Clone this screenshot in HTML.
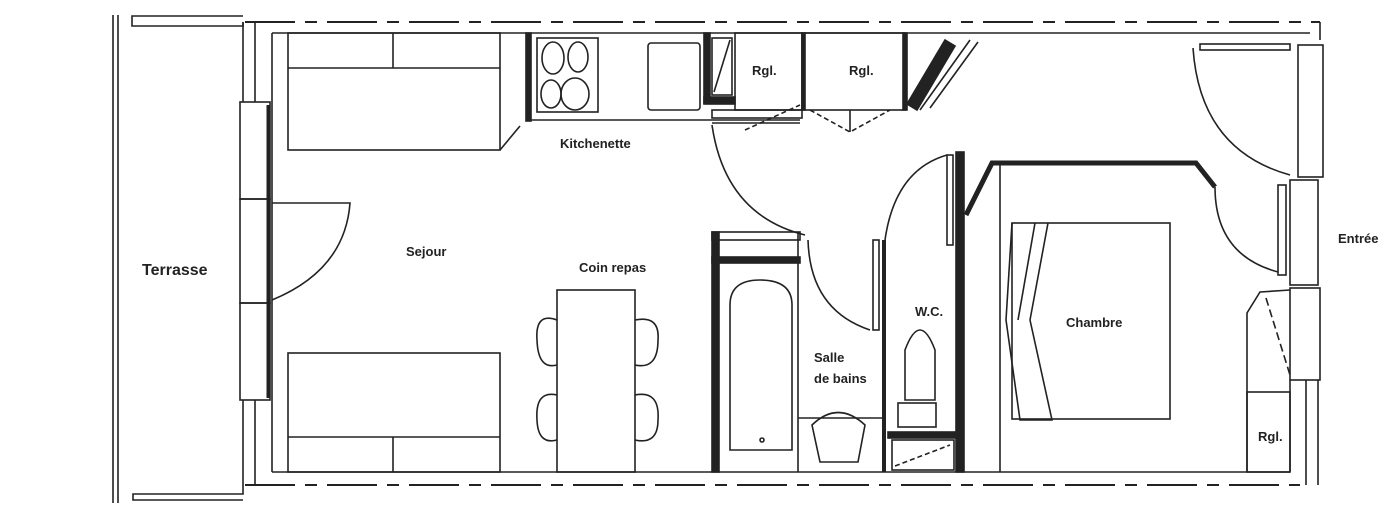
<!DOCTYPE html>
<html><head><meta charset="utf-8"><style>
html,body{margin:0;padding:0;background:#fff}
svg{display:block}
text{font-family:"Liberation Sans",sans-serif;font-weight:bold;fill:#222}
</style></head><body>
<svg width="1400" height="532" viewBox="0 0 1400 532" xmlns="http://www.w3.org/2000/svg">
<g fill="none" stroke="#222" stroke-width="1.6">
<!-- far left lines -->
<line x1="113" y1="15" x2="113" y2="503"/>
<line x1="118" y1="15" x2="118" y2="503"/>
<!-- terrace edges -->
<polyline points="243,22 243,26 132,26 132,16 243,16"/>
<polyline points="243,486 243,494 133,494 133,500 243,500"/>
<!-- dashed outer lines -->
<line x1="245" y1="22" x2="1320" y2="22" stroke-dasharray="50,10,12,10" stroke-width="2"/>
<line x1="245" y1="485" x2="1300" y2="485" stroke-dasharray="50,10,12,10" stroke-width="2"/>
<line x1="1320" y1="22" x2="1320" y2="40"/>
<!-- inner outer wall -->
<line x1="272" y1="33" x2="1310" y2="33"/>
<line x1="272" y1="472" x2="1290" y2="472"/>
<line x1="272" y1="33" x2="272" y2="472"/>
<line x1="243" y1="22" x2="243" y2="102"/>
<line x1="255" y1="22" x2="255" y2="102"/>
<line x1="243" y1="400" x2="243" y2="486"/>
<line x1="255" y1="400" x2="255" y2="486"/>
<!-- left windows -->
<rect x="240" y="102" width="30" height="97"/>
<rect x="240" y="199" width="30" height="104"/>
<rect x="240" y="303" width="30" height="97"/>
<line x1="268" y1="105" x2="268" y2="398" stroke-width="3"/>
<path d="M272,203 L350,203 Q345,270 272,300"/>
<!-- sofas -->
<rect x="288" y="33" width="212" height="117"/>
<line x1="288" y1="68" x2="500" y2="68"/>
<line x1="393" y1="33" x2="393" y2="68"/>
<line x1="500" y1="150" x2="520" y2="126"/>
<rect x="288" y="353" width="212" height="119"/>
<line x1="288" y1="437" x2="500" y2="437"/>
<line x1="393" y1="437" x2="393" y2="472"/>
<!-- kitchen -->
<line x1="528" y1="120" x2="800" y2="120"/>
<rect x="526" y="33" width="5" height="88" fill="#222"/>
<rect x="537" y="38" width="61" height="74"/>
<ellipse cx="553" cy="58" rx="11" ry="16"/>
<ellipse cx="578" cy="57" rx="10" ry="15"/>
<ellipse cx="551" cy="94" rx="10" ry="14"/>
<ellipse cx="575" cy="94" rx="14" ry="16"/>
<rect x="648" y="43" width="52" height="67" rx="3"/>
<rect x="704" y="33" width="6" height="70" fill="#222"/>
<rect x="704" y="97" width="31" height="7" fill="#222"/>
<rect x="712" y="38" width="20" height="57"/>
<line x1="714" y1="92" x2="730" y2="40"/>
<rect x="735" y="33" width="67" height="77"/>
<rect x="802" y="33" width="103" height="77"/>
<rect x="802" y="33" width="3" height="77" fill="#222"/>
<rect x="903" y="33" width="4" height="77" fill="#222"/>
<path d="M907,104 L945,40 L955,46 L917,110 Z" fill="#222"/>
<line x1="920" y1="110" x2="970" y2="40"/>
<line x1="930" y1="108" x2="978" y2="42"/>
<rect x="712" y="110" width="90" height="8"/>
<line x1="712" y1="123" x2="800" y2="123"/>
<path d="M745,130 L800,105" stroke-dasharray="5,3"/>
<path d="M810,110 L850,132 L890,110" stroke-dasharray="5,3"/>
<line x1="850" y1="110" x2="850" y2="132"/>
<!-- door kitchen to bath -->
<path d="M712,125 Q725,215 805,235"/>
<!-- table & chairs -->
<rect x="557" y="290" width="78" height="182"/>
<path d="M557,320 Q535,312 537,340 Q538,370 557,365"/>
<path d="M557,395 Q535,390 537,420 Q538,445 557,440"/>
<path d="M635,320 Q660,315 658,340 Q658,370 635,365"/>
<path d="M635,395 Q660,390 658,420 Q658,445 635,440"/>
<!-- bathroom -->
<rect x="712" y="232" width="7" height="240" fill="#222"/>
<rect x="712" y="232" width="88" height="8"/>
<rect x="712" y="257" width="88" height="6" fill="#222"/>
<line x1="798" y1="232" x2="798" y2="472"/>
<path d="M730,450 L730,305 Q730,280 760,280 Q792,280 792,305 L792,450 Z"/>
<circle cx="762" cy="440" r="2"/>
<path d="M808,240 Q810,310 870,330"/>
<line x1="798" y1="418" x2="885" y2="418"/>
<path d="M820,462 L812,425 Q838,400 865,425 L858,462 Z"/>
<line x1="884" y1="240" x2="884" y2="472" stroke-width="4"/>
<rect x="873" y="240" width="6" height="90"/>
<!-- WC -->
<rect x="956" y="152" width="8" height="320" fill="#222"/>
<rect x="947" y="155" width="6" height="90"/>
<path d="M947,155 Q895,170 885,240"/>
<path d="M905,400 L905,350 Q920,310 935,350 L935,400 Z"/>
<rect x="898" y="403" width="38" height="24"/>
<rect x="888" y="432" width="70" height="6" fill="#222"/>
<rect x="892" y="440" width="62" height="30"/>
<line x1="895" y1="466" x2="950" y2="445" stroke-dasharray="5,3"/>
<!-- chambre walls -->
<polyline points="966,215 992,163 1196,163 1215,187" stroke-width="5"/>
<line x1="1000" y1="163" x2="1000" y2="472"/>
<rect x="1012" y="223" width="158" height="196"/>
<path d="M1012,223 L1006,320 L1020,420 L1052,420 L1030,320 L1048,223"/>
<line x1="1035" y1="223" x2="1018" y2="320"/>
<!-- entrance doors -->
<rect x="1200" y="44" width="90" height="6"/>
<path d="M1193,48 Q1200,150 1290,175"/>
<path d="M1215,187 Q1215,255 1278,272"/>
<rect x="1278" y="185" width="8" height="90"/>
<!-- right walls -->
<rect x="1298" y="45" width="25" height="132"/>
<rect x="1290" y="180" width="28" height="105"/>
<rect x="1290" y="288" width="30" height="92"/>
<line x1="1306" y1="380" x2="1306" y2="485"/>
<line x1="1318" y1="380" x2="1318" y2="485"/>
<line x1="1290" y1="380" x2="1290" y2="472"/>
<polyline points="1247,472 1247,313 1260,292 1290,290"/>
<path d="M1266,298 L1290,375" stroke-dasharray="8,4"/>
<rect x="1247" y="392" width="43" height="80"/>
</g>
<text x="142" y="275" font-size="16" font-weight="normal">Terrasse</text>
<text x="406" y="256" font-size="13">Sejour</text>
<text x="560" y="148" font-size="13">Kitchenette</text>
<text x="579" y="272" font-size="13">Coin repas</text>
<text x="752" y="75" font-size="13">Rgl.</text>
<text x="849" y="75" font-size="13">Rgl.</text>
<text x="915" y="316" font-size="13">W.C.</text>
<text x="1066" y="327" font-size="13">Chambre</text>
<text x="814" y="362" font-size="13">Salle</text>
<text x="814" y="383" font-size="13">de bains</text>
<text x="1338" y="243" font-size="13">Entrée</text>
<text x="1258" y="441" font-size="13">Rgl.</text>
</svg>
</body></html>
